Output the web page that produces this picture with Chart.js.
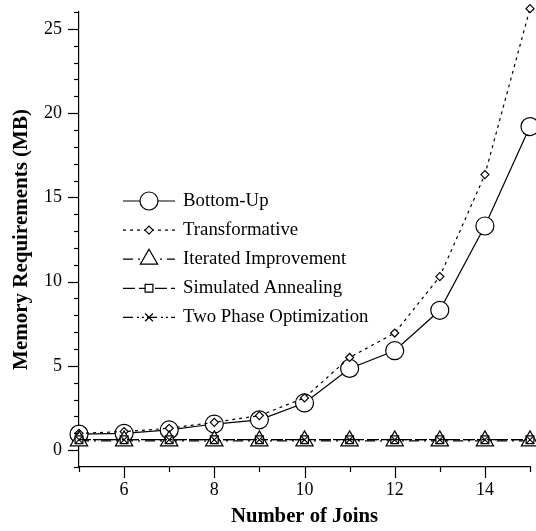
<!DOCTYPE html>
<html>
<head>
<meta charset="utf-8">
<script src="https://cdn.jsdelivr.net/npm/chart.js@4/dist/chart.umd.min.js"></script>
<style>
  html, body { margin: 0; padding: 0; background: #fff; }
  #wrap { width: 536px; height: 531px; }
</style>
</head>
<body>
<div id="wrap"><canvas id="c" width="536" height="531"></canvas></div>
<script>
// ---- data ----
const joins = [5, 6, 7, 8, 9, 10, 11, 12, 13, 14, 15];
const bottomUp = [0.95, 1.0, 1.2, 1.55, 1.8, 2.8, 4.85, 5.9, 8.3, 13.3, 19.2];
const transformative = [1.0, 1.1, 1.3, 1.65, 2.05, 3.1, 5.5, 6.95, 10.3, 16.35, 26.2];
const iterated = [0.55, 0.55, 0.55, 0.55, 0.55, 0.55, 0.55, 0.55, 0.55, 0.55, 0.55];
const simulated = [0.62, 0.62, 0.62, 0.62, 0.62, 0.62, 0.62, 0.62, 0.62, 0.62, 0.62];
const twoPhase = [0.62, 0.62, 0.62, 0.62, 0.62, 0.62, 0.62, 0.62, 0.62, 0.62, 0.62];
const seriesNames = ['Bottom-Up', 'Transformative', 'Iterated Improvement', 'Simulated Annealing', 'Two Phase Optimization'];
const xMajorTicks = [6, 8, 10, 12, 14];
const yMajorTicks = [0, 5, 10, 15, 20, 25];

const FONT = "'Liberation Serif', 'Times New Roman', Times, serif";
Chart.defaults.font.family = FONT;
Chart.defaults.color = '#000';

function pts(arr) { return joins.map((x, i) => ({ x: x, y: arr[i] })); }

const styles = [
  { data: bottomUp, dash: [], pointStyle: 'circle', r: 9, order: 5 },
  { data: transformative, dash: [3, 4], pointStyle: 'rectRot', r: 4, order: 4 },
  { data: iterated, dash: [10, 5, 2, 5], pointStyle: 'triangle', r: 10, order: 3 },
  { data: simulated, dash: [12, 4], pointStyle: 'rect', r: 5.5, order: 2 },
  { data: twoPhase, dash: [10, 4, 2, 3, 2, 3], pointStyle: 'crossRot', r: 5.5, order: 1 }
];

const datasets = styles.map((s, i) => ({
  label: seriesNames[i],
  data: pts(s.data),
  borderColor: '#000',
  borderWidth: 1.2,
  borderDash: s.dash,
  backgroundColor: '#fff',
  pointStyle: s.pointStyle,
  pointRadius: s.r,
  pointHoverRadius: s.r,
  pointBackgroundColor: '#fff',
  pointBorderColor: '#000',
  pointBorderWidth: 1.2,
  fill: false,
  tension: 0,
  order: s.order,
  clip: false
}));

// custom tick marks (major long, minor short, pointing outward)
const tickPlugin = {
  id: 'tickMarks',
  afterDraw(chart) {
    const ctx = chart.ctx;
    const xs = chart.scales.x, ys = chart.scales.y;
    const a = chart.chartArea;
    ctx.save();
    ctx.strokeStyle = '#000';
    ctx.lineWidth = 1.2;
    ctx.setLineDash([]);
    for (let v = Math.ceil(ys.min); v <= ys.max; v++) {
      const y = Math.round(ys.getPixelForValue(v)) + 0.5;
      const len = yMajorTicks.includes(v) ? 11 : 5;
      ctx.beginPath(); ctx.moveTo(a.left - len, y); ctx.lineTo(a.left, y); ctx.stroke();
    }
    for (let v = Math.ceil(xs.min); v <= xs.max; v++) {
      const x = Math.round(xs.getPixelForValue(v)) + 0.5;
      const len = xMajorTicks.includes(v) ? 11 : 5;
      ctx.beginPath(); ctx.moveTo(x, a.bottom); ctx.lineTo(x, a.bottom + len); ctx.stroke();
    }
    ctx.restore();
  }
};

// legend drawn with line + marker, inside the plot area
const legendPlugin = {
  id: 'lineLegend',
  afterDraw(chart) {
    const ctx = chart.ctx;
    const a = chart.chartArea;
    const x0 = a.left + 44, y0 = a.top + 189, gap = 29.1, lineLen = 52;
    ctx.save();
    chart.data.datasets.forEach((ds, i) => {
      const y = y0 + i * gap;
      ctx.strokeStyle = '#000';
      ctx.lineWidth = ds.borderWidth;
      ctx.setLineDash(ds.borderDash || []);
      ctx.beginPath(); ctx.moveTo(x0, y); ctx.lineTo(x0 + lineLen, y); ctx.stroke();
      ctx.setLineDash([]);
      ctx.fillStyle = '#fff';
      ctx.strokeStyle = '#000';
      ctx.lineWidth = ds.pointBorderWidth;
      Chart.helpers.drawPoint(ctx, { pointStyle: ds.pointStyle, radius: ds.pointRadius, rotation: 0, borderWidth: ds.pointBorderWidth }, x0 + lineLen / 2, y);
      ctx.fillStyle = '#000';
      ctx.font = '18.8px ' + FONT;
      ctx.textAlign = 'left';
      ctx.textBaseline = 'middle';
      ctx.fillText(ds.label, x0 + lineLen + 8, y);
    });
    ctx.restore();
  }
};

function noPad(s) { s.paddingTop = 0; s.paddingBottom = 0; s.paddingLeft = 0; s.paddingRight = 0; }

new Chart(document.getElementById('c'), {
  type: 'line',
  data: { datasets: datasets },
  options: {
    responsive: false,
    animation: false,
    events: [],
    layout: { autoPadding: false, padding: { top: 12, right: 6, left: 0, bottom: 0 } },
    plugins: { legend: { display: false }, tooltip: { enabled: false } },
    scales: {
      x: {
        type: 'linear',
        min: 5, max: 15,
        afterFit(s) { s.height = 64; noPad(s); },
        grid: { display: false, drawTicks: false },
        border: { display: true, color: '#000', width: 1.2 },
        ticks: {
          stepSize: 1, autoSkip: false, maxTicksLimit: 100, maxRotation: 0,
          padding: 12, font: { size: 18 }, color: '#000',
          callback: v => xMajorTicks.includes(v) ? String(v) : ''
        },
        title: { display: true, text: 'Number of Joins', font: { size: 20.7, weight: 'bold' }, color: '#000', padding: { top: 0, bottom: 2 } }
      },
      y: {
        type: 'linear',
        min: -1, max: 26,
        afterFit(s) { s.width = 79; noPad(s); },
        grid: { display: false, drawTicks: false },
        border: { display: true, color: '#000', width: 1.2 },
        ticks: {
          stepSize: 1, autoSkip: false, maxTicksLimit: 100,
          padding: 17, font: { size: 18 }, color: '#000',
          callback: v => yMajorTicks.includes(v) ? String(v) : ''
        },
        title: { display: true, text: 'Memory Requirements (MB)', font: { size: 21, weight: 'bold' }, color: '#000', padding: { top: 9, bottom: 0 } }
      }
    }
  },
  plugins: [tickPlugin, legendPlugin]
});
</script>
</body>
</html>
